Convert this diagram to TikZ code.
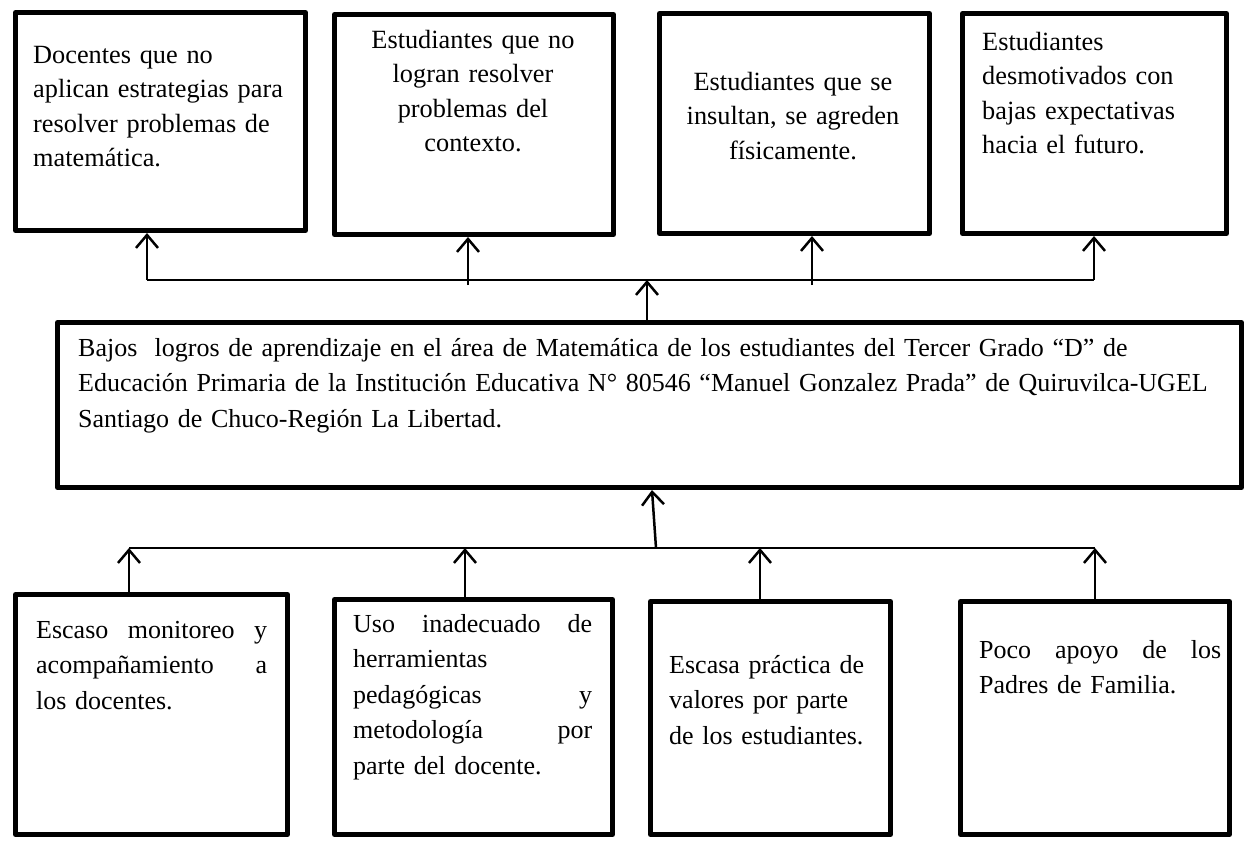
\documentclass[tikz,border=0pt]{standalone}
\usepackage{fontspec}
\setmainfont{Liberation Serif}
\usetikzlibrary{arrows.meta}
\newcommand{\jline}[1]{\leavevmode\hbox to \linewidth{#1}}
\begin{document}
\begin{tikzpicture}[x=1pt,y=-1pt,
  boxr/.style={draw=black, line width=5pt, line join=round, inner sep=0pt},
  txt/.style={inner sep=0pt, font=\fontsize{26.3}{34.6}\selectfont},
  txtb/.style={inner sep=0pt, font=\fontsize{26}{35.5}\selectfont},
  conn/.style={line width=2.5pt, -{Straight Barb[length=13pt,width=22pt,line width=2.5pt]}},
  bus/.style={line width=2pt},
]
\useasboundingbox (0,0) rectangle (1247,841);

% boxes
\node[boxr, minimum width=290pt, minimum height=218pt] (t1) at (160.5,121.5) {};
\node[boxr, minimum width=279pt, minimum height=220pt] (t2) at (474,124.5) {};
\node[boxr, minimum width=270pt, minimum height=220pt] (t3) at (794.5,123.5) {};
\node[boxr, minimum width=264pt, minimum height=220pt] (t4) at (1094.5,123.5) {};
\node[boxr, minimum width=1184pt, minimum height=165pt] (m) at (649.5,405) {};
\node[boxr, minimum width=272pt, minimum height=240pt] (b1) at (151.5,714.5) {};
\node[boxr, minimum width=278pt, minimum height=235pt] (b2) at (473.5,717) {};
\node[boxr, minimum width=240pt, minimum height=233pt] (b3) at (770.5,718) {};
\node[boxr, minimum width=269pt, minimum height=233pt] (b4) at (1095,718) {};

% texts
\node[txt, anchor=base west, text width=268pt, align=left] (t1x) at (33,63)
  {Docentes que no\\aplican estrategias para\\resolver problemas de\\matemática.};
\node[txt, anchor=base, text width=270pt, align=center] (t2x) at (473,48)
  {Estudiantes que no\\logran resolver\\problemas del\\contexto.};
\node[txt, anchor=base, text width=270pt, align=center] (t3x) at (793,90)
  {Estudiantes que se\\insultan, se agreden\\físicamente.};
\node[txt, anchor=base west, text width=240pt, align=left] (t4x) at (982,50)
  {Estudiantes\\desmotivados con\\bajas expectativas\\hacia el futuro.};
\node[txtb, anchor=base west, text width=1165pt, align=left] (mx) at (78,356)
  {Bajos\ \ logros de aprendizaje en el área de Matemática de los estudiantes del Tercer Grado “D” de\\Educación Primaria de la Institución Educativa N° 80546 “Manuel Gonzalez Prada” de Quiruvilca-UGEL\\Santiago de Chuco-Región La Libertad.};
\node[txtb, anchor=base west, text width=231pt, align=left] (b1x) at (36,638)
  {\jline{Escaso\hfill monitoreo\hfill y}\\\jline{acompañamiento\hfill a}\\los docentes.};
\node[txtb, anchor=base west, text width=239pt, align=left] (b2x) at (353,632)
  {\jline{Uso\hfill inadecuado\hfill de}\\herramientas\\\jline{pedagógicas\hfill y}\\\jline{metodología\hfill por}\\parte del docente.};
\node[txtb, anchor=base west, text width=215pt, align=left] (b3x) at (669,673)
  {Escasa práctica de\\valores por parte\\de los estudiantes.};
\node[txtb, anchor=base west, text width=242pt, align=left] (b4x) at (979,658)
  {\jline{Poco\hfill apoyo\hfill de\hfill los}\\Padres de Familia.};

% upper connectors
\coordinate (ta) at (147,280);
\coordinate (tb) at (468,280);
\coordinate (tb0) at (468,285);
\coordinate (tc) at (812,280);
\coordinate (tc0) at (812,285);
\coordinate (td) at (1094,280);
\coordinate (tm) at (647,280);
\draw[bus] (ta) -- (td);
\draw[conn] (ta) -- (ta |- t1.south);
\draw[conn] (tb0) -- (tb |- t2.south);
\draw[conn] (tc0) -- (tc |- t3.south);
\draw[conn] (td) -- (td |- t4.south);
\draw[conn] (tm |- m.north) -- (tm);

% lower connectors
\coordinate (ba) at (129,548);
\coordinate (bb) at (465,548);
\coordinate (bc) at (760,548);
\coordinate (bd) at (1095,548);
\coordinate (bm) at (656,548);
\coordinate (mb) at (652,490);
\draw[bus] (ba) -- (bd);
\draw[conn] (ba |- b1.north) -- (ba);
\draw[conn] (bb |- b2.north) -- (bb);
\draw[conn] (bc |- b3.north) -- (bc);
\draw[conn] (bd |- b4.north) -- (bd);
\draw[conn] (bm) -- (mb);
\end{tikzpicture}
\end{document}
